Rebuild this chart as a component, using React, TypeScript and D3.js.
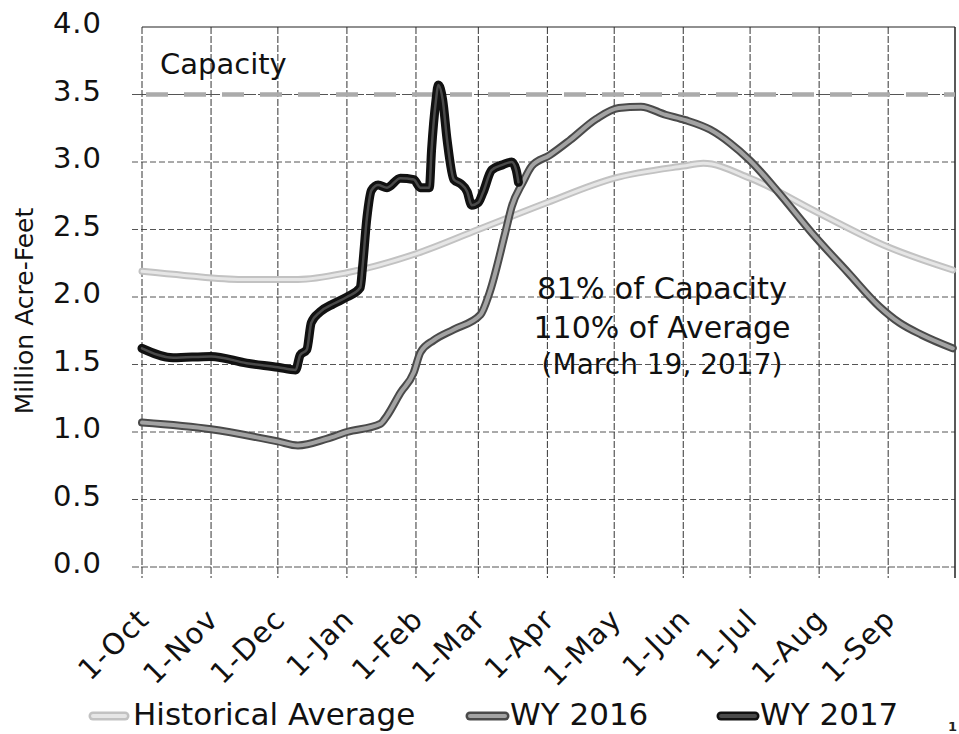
import React, { useEffect, useRef } from 'react';
import * as d3 from 'd3';

// Month tick labels (water year, Oct to Sep)
const monthLabels = ['1-Oct', '1-Nov', '1-Dec', '1-Jan', '1-Feb', '1-Mar', '1-Apr', '1-May', '1-Jun', '1-Jul', '1-Aug', '1-Sep'];
const monthStarts = ['2016-10-01', '2016-11-01', '2016-12-01', '2017-01-01', '2017-02-01', '2017-03-01', '2017-04-01', '2017-05-01', '2017-06-01', '2017-07-01', '2017-08-01', '2017-09-01'];
const yTicks = [0, 0.5, 1.0, 1.5, 2.0, 2.5, 3.0, 3.5, 4.0];
const capacity = 3.5;

// Historical average storage (million acre-feet)
const histDates = ['2016-10-01', '2016-10-20', '2016-11-15', '2016-12-10', '2017-01-01', '2017-02-01', '2017-03-01', '2017-04-01', '2017-05-01', '2017-06-01', '2017-06-10', '2017-07-01', '2017-08-01', '2017-09-01', '2017-09-30'];
const histValues = [2.19, 2.16, 2.13, 2.13, 2.18, 2.32, 2.50, 2.70, 2.88, 2.97, 2.99, 2.88, 2.62, 2.37, 2.20];

// WY 2016 (plotted on the same Oct-Sep axis)
const wy2016Dates = ['2016-10-01', '2016-11-01', '2016-12-01', '2016-12-10', '2016-12-23', '2017-01-01', '2017-01-16', '2017-01-19', '2017-01-25', '2017-01-31', '2017-02-03', '2017-02-09', '2017-02-18', '2017-03-02', '2017-03-06', '2017-03-13', '2017-03-16', '2017-03-21', '2017-03-25', '2017-04-02', '2017-04-11', '2017-04-23', '2017-05-03', '2017-05-13', '2017-05-24', '2017-06-02', '2017-06-13', '2017-06-22', '2017-07-01', '2017-07-14', '2017-07-29', '2017-08-14', '2017-08-28', '2017-09-06', '2017-09-16', '2017-09-30'];
const wy2016Values = [1.07, 1.02, 0.93, 0.90, 0.95, 1.00, 1.06, 1.12, 1.29, 1.44, 1.59, 1.68, 1.76, 1.87, 2.03, 2.47, 2.67, 2.85, 2.97, 3.05, 3.16, 3.32, 3.40, 3.41, 3.35, 3.31, 3.24, 3.14, 3.01, 2.77, 2.47, 2.18, 1.93, 1.81, 1.72, 1.62];

// WY 2017 through March 19, 2017
const wy2017Dates = ['2016-10-01', '2016-10-15', '2016-11-01', '2016-11-17', '2016-12-01', '2016-12-09', '2016-12-11', '2016-12-14', '2016-12-16', '2016-12-20', '2016-12-26', '2017-01-01', '2017-01-07', '2017-01-08', '2017-01-10', '2017-01-12', '2017-01-15', '2017-01-19', '2017-01-25', '2017-01-31', '2017-02-03', '2017-02-07', '2017-02-08', '2017-02-10', '2017-02-11', '2017-02-13', '2017-02-15', '2017-02-18', '2017-02-21', '2017-02-24', '2017-02-26', '2017-03-01', '2017-03-03', '2017-03-07', '2017-03-12', '2017-03-16', '2017-03-18', '2017-03-19'];
const wy2017Values = [1.62, 1.55, 1.56, 1.51, 1.48, 1.46, 1.57, 1.61, 1.81, 1.89, 1.95, 2.00, 2.07, 2.22, 2.59, 2.79, 2.83, 2.81, 2.88, 2.87, 2.81, 2.81, 3.09, 3.46, 3.57, 3.46, 3.16, 2.87, 2.84, 2.78, 2.68, 2.70, 2.77, 2.94, 2.98, 3.00, 2.94, 2.85];

const annotationLines = ['81% of Capacity', '110% of Average', '(March 19, 2017)'];
const legendLabels = ['Historical Average', 'WY 2016', 'WY 2017'];

const FONT = 'DejaVu Sans, Verdana, sans-serif';

const App = () => {
  const svgRef = useRef<SVGSVGElement>(null);

  useEffect(() => {
    const width = 959;
    const height = 734;
    const margin = { top: 27, right: 4, bottom: 167, left: 142 };

    const svg = d3.select(svgRef.current);
    svg.selectAll('*').remove();
    svg.attr('width', width).attr('height', height);

    svg.append('rect').attr('width', width).attr('height', height).attr('fill', '#fff');

    const parse = d3.timeParse('%Y-%m-%d');
    const x = d3.scaleTime()
      .domain([parse('2016-10-01')!, parse('2017-10-01')!])
      .range([margin.left, width - margin.right]);
    const y = d3.scaleLinear()
      .domain([0, 4])
      .range([height - margin.bottom, margin.top]);

    const x0 = x.range()[0];
    const x1 = x.range()[1];
    const yBottom = y(0);
    const yTop = y(4);

    // horizontal gridlines (with small tick stubs to the left)
    svg.append('g')
      .selectAll('line')
      .data(yTicks.filter(d => d < 4))
      .enter().append('line')
      .attr('x1', x0 - 10)
      .attr('x2', x1)
      .attr('y1', d => y(d))
      .attr('y2', d => y(d))
      .attr('stroke', '#555')
      .attr('stroke-width', 1)
      .attr('stroke-dasharray', d => (d === 0 ? '7,2' : '6,3'));

    // vertical gridlines at month starts
    svg.append('g')
      .selectAll('line')
      .data(monthStarts)
      .enter().append('line')
      .attr('x1', d => x(parse(d)!))
      .attr('x2', d => x(parse(d)!))
      .attr('y1', yTop)
      .attr('y2', yBottom + 11)
      .attr('stroke', '#333')
      .attr('stroke-width', 1)
      .attr('stroke-dasharray', '7,2');

    // plot frame: top and right
    svg.append('line')
      .attr('x1', x0).attr('x2', x1).attr('y1', yTop).attr('y2', yTop)
      .attr('stroke', '#222').attr('stroke-width', 1.2);
    svg.append('line')
      .attr('x1', x1).attr('x2', x1).attr('y1', yTop).attr('y2', yBottom + 11)
      .attr('stroke', '#222').attr('stroke-width', 1.5);

    // capacity line
    svg.append('line')
      .attr('x1', x0 - 10).attr('x2', x1).attr('y1', y(capacity)).attr('y2', y(capacity))
      .attr('stroke', '#555').attr('stroke-width', 1).attr('stroke-dasharray', '4,2');
    svg.append('line')
      .attr('x1', x0 + 4).attr('x2', x1).attr('y1', y(capacity)).attr('y2', y(capacity))
      .attr('stroke', '#ababab').attr('stroke-width', 4.5).attr('stroke-dasharray', '22,16');

    // y tick labels
    svg.append('g')
      .selectAll('text')
      .data(yTicks)
      .enter().append('text')
      .attr('x', 102)
      .attr('y', d => y(d) + 6)
      .attr('text-anchor', 'end')
      .attr('font-family', FONT)
      .attr('font-size', 29)
      .attr('letter-spacing', 1)
      .attr('fill', '#111')
      .text(d => d.toFixed(1));

    // y axis title
    svg.append('text')
      .attr('transform', `translate(33, 311) rotate(-90)`)
      .attr('text-anchor', 'middle')
      .attr('font-family', FONT)
      .attr('font-size', 25)
      .attr('fill', '#111')
      .text('Million Acre-Feet');

    // x tick labels, rotated
    svg.append('g')
      .selectAll('text')
      .data(monthStarts)
      .enter().append('text')
      .attr('transform', d => `translate(${x(parse(d)!) + 9}, 621) rotate(-45)`)
      .attr('text-anchor', 'end')
      .attr('font-family', FONT)
      .attr('font-size', 29)
      .attr('letter-spacing', 1.2)
      .attr('fill', '#111')
      .text((d, i) => monthLabels[i]);

    // "Capacity" label
    svg.append('text')
      .attr('x', 160).attr('y', 74)
      .attr('font-family', FONT).attr('font-size', 29).attr('fill', '#111')
      .text('Capacity');

    const line = d3.line<[Date, number]>()
      .x(d => x(d[0]))
      .y(d => y(d[1]))
      .curve(d3.curveMonotoneX);

    const zip = (dates: string[], vals: number[]) => dates.map((d, i) => [parse(d)!, vals[i]] as [Date, number]);

    const hist = zip(histDates, histValues);
    const wy16 = zip(wy2016Dates, wy2016Values);
    const wy17 = zip(wy2017Dates, wy2017Values);

    const styles = [
      { outer: '#c2c2c2', outerW: 7, inner: '#e6e6e6', innerW: 3 },
      { outer: '#4a4a4a', outerW: 8, inner: '#a3a3a3', innerW: 4 },
      { outer: '#111111', outerW: 9, inner: '#4a4a4a', innerW: 2.5 }
    ];

    [hist, wy16, wy17].forEach((data, i) => {
      const s = styles[i];
      svg.append('path')
        .datum(data)
        .attr('fill', 'none')
        .attr('stroke', s.outer)
        .attr('stroke-width', s.outerW)
        .attr('stroke-linejoin', 'round')
        .attr('stroke-linecap', 'round')
        .attr('d', line);
      svg.append('path')
        .datum(data)
        .attr('fill', 'none')
        .attr('stroke', s.inner)
        .attr('stroke-width', s.innerW)
        .attr('stroke-linejoin', 'round')
        .attr('stroke-linecap', 'round')
        .attr('d', line);
    });

    // annotation box text
    const annSizes = [30.5, 30, 28];
    const annY = [299, 338, 374];
    svg.append('g')
      .selectAll('text')
      .data(annotationLines)
      .enter().append('text')
      .attr('x', 662)
      .attr('y', (d, i) => annY[i])
      .attr('text-anchor', 'middle')
      .attr('font-family', FONT)
      .attr('font-size', (d, i) => annSizes[i])
      .attr('fill', '#111')
      .text(d => d);

    // legend
    const legendX = [[93, 125, 133], [470, 505, 510], [721, 755, 760]];
    const legend = svg.append('g');
    legendLabels.forEach((label, i) => {
      const [sx1, sx2, tx] = legendX[i];
      const s = styles[i];
      legend.append('line')
        .attr('x1', sx1).attr('x2', sx2).attr('y1', 716).attr('y2', 716)
        .attr('stroke', s.outer).attr('stroke-width', 9).attr('stroke-linecap', 'round');
      legend.append('line')
        .attr('x1', sx1).attr('x2', sx2).attr('y1', 716).attr('y2', 716)
        .attr('stroke', s.inner).attr('stroke-width', 4).attr('stroke-linecap', 'round');
      legend.append('text')
        .attr('x', tx).attr('y', 725)
        .attr('font-family', FONT).attr('font-size', 31).attr('fill', '#111')
        .text(label);
    });

    // stray page mark in bottom-right corner
    svg.append('text')
      .attr('x', 948).attr('y', 731)
      .attr('font-family', FONT).attr('font-size', 13).attr('font-weight', 'bold').attr('fill', '#222')
      .text('1');
  }, []);

  return (
    <div style={{ position: 'absolute', left: 0, top: 0 }}>
      <svg ref={svgRef} style={{ display: 'block' }}></svg>
    </div>
  );
};

export default App;
